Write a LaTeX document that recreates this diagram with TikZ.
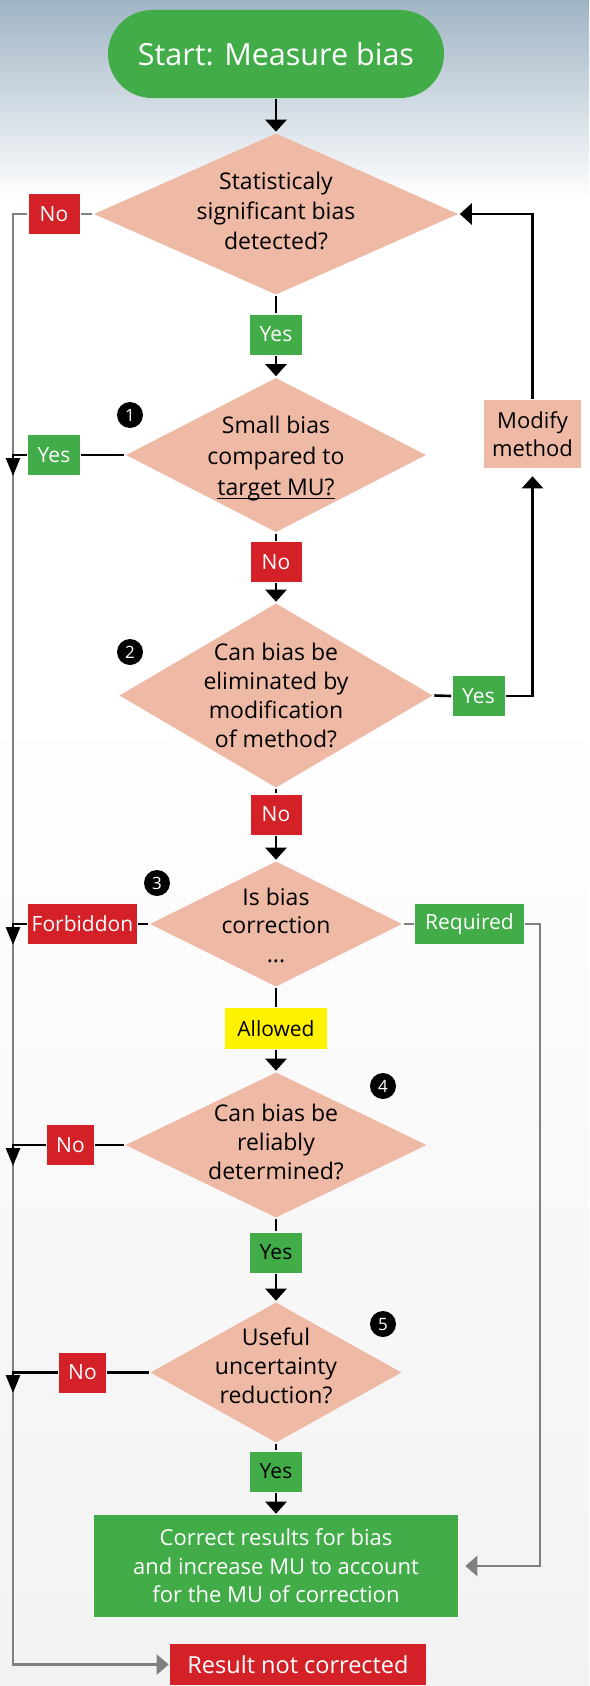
\documentclass[tikz,border=0pt]{standalone}
\usepackage{fontspec}
\setmainfont{Open Sans}
\usetikzlibrary{arrows.meta, shapes.geometric}
\definecolor{okgreen}{RGB}{66,172,73}
\definecolor{nored}{RGB}{212,32,39}
\definecolor{salmon}{RGB}{238,185,165}
\definecolor{allowy}{RGB}{255,242,0}
\definecolor{linegray}{RGB}{128,128,128}
\definecolor{skyblue}{RGB}{160,180,196}
\newcommand{\lowline}[1]{\setbox0\hbox{#1}\rlap{\rule[-3.5pt]{\wd0}{1.3pt}}\box0}

\begin{document}
\begin{tikzpicture}[x=1pt, y=-1pt, line width=2.6pt,
    flow/.style={-{Triangle[width=21pt,length=12pt]}},
    downflow/.style={-{Triangle[width=14pt,length=18pt]}},
    gflow/.style={linegray, -{Triangle[width=20pt,length=12pt]}},
    dia/.style={diamond, fill=salmon, inner sep=0pt},
    qtext/.style={align=center, inner sep=0pt, font=\fontsize{23}{30}\selectfont},
    lab/.style={inner sep=0pt, minimum height=40pt, font=\fontsize{21}{24}\selectfont},
    yeslab/.style={lab, fill=okgreen, text=white, minimum width=52pt},
    nolab/.style={lab, fill=nored, text=white, minimum width=51pt},
    num/.style={circle, fill=black, text=white, inner sep=0pt, minimum size=26pt, font=\fontsize{17}{17}\selectfont},
    stepbox/.style={inner sep=0pt, align=center, font=\fontsize{22}{28.5}\selectfont}]
  \useasboundingbox (0,0) rectangle (589,1686);
  \fill[white] (0,0) rectangle (589,1686);
  \shade[top color=skyblue, bottom color=white] (0,0) rectangle (589,200);
  \shade[top color=white, bottom color=black!5] (0,700) rectangle (589,1686);

  \node[rounded corners=44pt, fill=okgreen, text=white, minimum width=336pt, minimum height=88pt,
        font=\fontsize{30.5}{36}\selectfont] (start) at (276,54) {Start: Measure bias};

  \node[dia, minimum width=365pt, minimum height=162pt] (d1) at (276,214) {};
  \node[qtext] (q1) at (276,211) {Statisticaly\\significant bias\\detected?};
  \node[nolab] (no1) at (54,214) {No};
  \node[yeslab, text=white] (yes1) at (276,334.5) {Yes};

  \node[dia, minimum width=301pt, minimum height=155pt] (d2) at (276,455) {};
  \node[qtext, font=\fontsize{23}{31}\selectfont] (q2) at (276,459) {Small bias\\compared to\\\lowline{target MU?}};
  \node[num] (n1) at (130,415) {1};
  \node[yeslab] (yes2) at (54,455) {Yes};
  \node[nolab] (no2) at (276,562) {No};
  \node[stepbox, fill=salmon, minimum width=97pt, minimum height=68pt] (modify) at (532.5,434) {Modify\\method};

  \node[dia, minimum width=314pt, minimum height=185pt] (d3) at (276,695.5) {};
  \node[qtext, font=\fontsize{23}{29}\selectfont] (q3) at (276,695) {Can bias be\\eliminated by\\modification\\of method?};
  \node[num] (n2) at (130,652) {2};
  \node[yeslab] (yes3) at (478.5,696) {Yes};
  \node[nolab] (no3) at (276,814.5) {No};

  \node[dia, minimum width=253pt, minimum height=126pt] (d4) at (276,924) {};
  \node[qtext, font=\fontsize{23}{28.5}\selectfont] (q4) at (276,925) {Is bias\\correction\\...};
  \node[num] (n3) at (157,883) {3};
  \node[lab, fill=nored, text=white, minimum width=109pt] (forb) at (82.5,924) {Forbiddon};
  \node[lab, fill=okgreen, text=white, minimum width=109pt] (req) at (469.5,924) {Required};
  \node[lab, fill=allowy, minimum width=102pt, minimum height=41pt] (allowed) at (276,1028.5) {Allowed};

  \node[dia, minimum width=302pt, minimum height=146pt] (d5) at (276,1145) {};
  \node[qtext, font=\fontsize{23}{29}\selectfont] (q5) at (276,1141.5) {Can bias be\\reliably\\determined?};
  \node[num] (n4) at (383,1086) {4};
  \node[nolab, minimum width=47pt] (no5) at (70.5,1145) {No};
  \node[yeslab, text=black] (yes5) at (276,1252.5) {Yes};

  \node[dia, minimum width=252pt, minimum height=141pt] (d6) at (276,1372.5) {};
  \node[qtext, font=\fontsize{23}{29}\selectfont] (q6) at (276,1366) {Useful\\uncertainty\\reduction?};
  \node[num] (n5) at (383,1324) {5};
  \node[nolab, minimum width=47pt] (no6) at (82.5,1372.5) {No};
  \node[yeslab, text=black] (yes6) at (276,1471.5) {Yes};

  \node[stepbox, fill=okgreen, text=white, minimum width=364pt, minimum height=102pt] (correct) at (276,1566)
       {Correct results for bias\\and increase MU to account\\for the MU of correction};
  \node[lab, fill=nored, text=white, minimum width=256pt, minimum height=41pt,
        font=\fontsize{23.5}{26}\selectfont] (result) at (298,1664.5) {Result not corrected};

  \coordinate (spineend) at (13,1664.5);
  \coordinate (j2) at (13,476);
  \coordinate (j4) at (13,945);
  \coordinate (j5) at (13,1166);
  \coordinate (j6) at (13,1393);
  \coordinate (rc) at (540,1566);

  \draw[linegray] (d1.west) -- (no1.east);
  \draw[gflow] (no1.west) -| (spineend) -- (result.west);
  \draw[linegray] (d4.east) -- (req.west);
  \draw[gflow, shorten >=6pt] (req.east) -| (rc) -- (correct.east);

  \draw[flow] (start.south) -- (d1.north);
  \draw (d1.south) -- (yes1.north);
  \draw[flow] (yes1.south) -- (d2.north);
  \draw (d2.west) -- (yes2.east);
  \draw[downflow] (yes2.west) -| (j2);
  \draw (d2.south) -- (no2.north);
  \draw[flow] (no2.south) -- (d3.north);
  \draw (d3.east) -- (yes3.west);
  \draw[flow, shorten >=7pt] (yes3.east) -| (modify.south);
  \draw[flow] (modify.north) |- (d1.east);
  \draw (d3.south) -- (no3.north);
  \draw[flow] (no3.south) -- (d4.north);
  \draw (d4.west) -- (forb.east);
  \draw[downflow] (forb.west) -| (j4);
  \draw (d4.south) -- (allowed.north);
  \draw[flow] (allowed.south) -- (d5.north);
  \draw (d5.west) -- (no5.east);
  \draw[downflow] (no5.west) -| (j5);
  \draw (d5.south) -- (yes5.north);
  \draw[flow] (yes5.south) -- (d6.north);
  \draw (d6.west) -- (no6.east);
  \draw[downflow] (no6.west) -| (j6);
  \draw (d6.south) -- (yes6.north);
  \draw[flow] (yes6.south) -- (correct.north);
\end{tikzpicture}
\end{document}
